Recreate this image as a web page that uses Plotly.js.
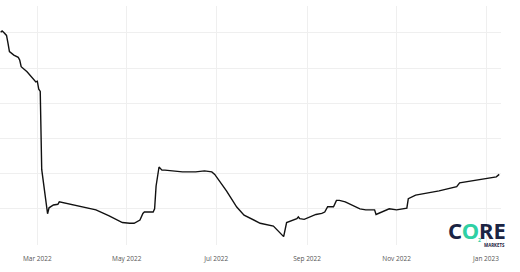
<!DOCTYPE html>
<html>
<head>
<meta charset="utf-8">
<script src="https://cdn.plot.ly/plotly-3.0.1.min.js"></script>
<style>html,body{margin:0;padding:0;background:#fff;}#chart{width:520px;height:272px;}</style>
</head>
<body>
<div id="chart"></div>
<script>
const dates = [
  "2022-02-04","2022-02-05","2022-02-06","2022-02-08","2022-02-09","2022-02-10","2022-02-13","2022-02-16","2022-02-17","2022-02-18",
  "2022-02-22","2022-02-26","2022-02-28","2022-03-01","2022-03-02","2022-03-03","2022-03-04","2022-03-08","2022-03-09","2022-03-12",
  "2022-03-15","2022-03-16","2022-03-22","2022-03-30","2022-04-08","2022-04-10","2022-04-19","2022-04-28","2022-05-03","2022-05-06",
  "2022-05-10","2022-05-12","2022-05-13","2022-05-19","2022-05-20","2022-05-21","2022-05-23","2022-05-24","2022-05-25","2022-05-27",
  "2022-06-08","2022-06-17","2022-06-23","2022-06-28","2022-06-30","2022-07-08","2022-07-15","2022-07-20","2022-07-26","2022-07-31",
  "2022-08-09","2022-08-12","2022-08-16","2022-08-18","2022-08-23","2022-08-25","2022-08-26","2022-08-27","2022-08-30","2022-09-03",
  "2022-09-07","2022-09-11","2022-09-13","2022-09-15","2022-09-19","2022-09-21","2022-09-23","2022-09-27","2022-10-07","2022-10-11",
  "2022-10-17","2022-10-18","2022-10-25","2022-10-27","2022-11-01","2022-11-08","2022-11-09","2022-11-14","2022-11-30","2022-12-12",
  "2022-12-14","2023-01-08","2023-01-10"
];
const values = [
  60.2,60.6,60.2,59.3,57.1,54.7,53.7,53.1,52.3,50.4,
  49.0,47.1,46.1,46.3,44.0,43.4,21.2,8.6,10.3,11.1,
  11.3,12.0,11.5,10.8,9.9,9.7,8.0,6.1,5.9,5.9,
  6.8,8.7,9.1,9.1,10.0,16.5,21.9,21.5,21.0,21.0,
  20.5,20.5,20.8,20.5,19.8,15.1,10.5,8.2,7.0,5.9,
  5.1,3.7,2.1,6.1,7.0,7.2,7.7,7.2,7.0,7.7,
  8.4,8.7,9.1,10.6,10.6,12.4,12.4,12.0,10.0,9.7,
  9.7,8.4,9.7,10.0,9.7,10.2,12.9,13.9,15.1,16.3,
  17.4,19.1,19.8
];

const trace = {
  x: dates, y: values, type: "scatter", mode: "lines",
  line: {color: "#111111", width: 1.4}, hoverinfo: "skip"
};

const navy = "#1b2443", teal = "#2fd0a4";
const layout = {
  width: 520, height: 272,
  margin: {l: 0, r: 19, t: 6, b: 27},
  paper_bgcolor: "#ffffff", plot_bgcolor: "#ffffff",
  showlegend: false,
  font: {family: "Open Sans, sans-serif", color: "#555555", size: 6.5},
  xaxis: {
    type: "date", range: ["2022-02-03 13:26", "2023-01-11 05:00"],
    dtick: "M2", tick0: "2022-01-01", tickformat: "%b %Y",
    showgrid: true, gridcolor: "#efefef", gridwidth: 1,
    showline: false, zeroline: false, ticks: "",
    ticklabelstandoff: 8,
    tickfont: {size: 6.5, color: "#555555"}
  },
  yaxis: {
    range: [-0.28, 67.67], dtick: 10, tick0: 0,
    showticklabels: false, showgrid: true, gridcolor: "#efefef", gridwidth: 1,
    zeroline: false, showline: false, ticks: ""
  },
  annotations: [
    {xref: "paper", yref: "paper", x: 1.013, y: -0.008, xanchor: "right", yanchor: "bottom", showarrow: false,
     text: '<b><span style="color:' + navy + '">C</span><span style="color:' + teal + '">O</span><span style="color:' + navy + '">RE</span></b>',
     font: {family: "Noto Sans, sans-serif", size: 22, color: navy}},
    {xref: "paper", yref: "paper", x: 0.957, y: 0.022, xanchor: "center", yanchor: "middle", showarrow: false,
     text: "<b>2</b>", font: {family: "Noto Sans, sans-serif", size: 5, color: teal}},
    {xref: "paper", yref: "paper", x: 1.012, y: -0.002, xanchor: "right", yanchor: "middle", showarrow: false,
     text: "<b>MARKETS</b>", font: {family: "Noto Sans, sans-serif", size: 4.4, color: navy}}
  ]
};

Plotly.newPlot("chart", [trace], layout, {displayModeBar: false, staticPlot: true});
</script>
</body>
</html>
